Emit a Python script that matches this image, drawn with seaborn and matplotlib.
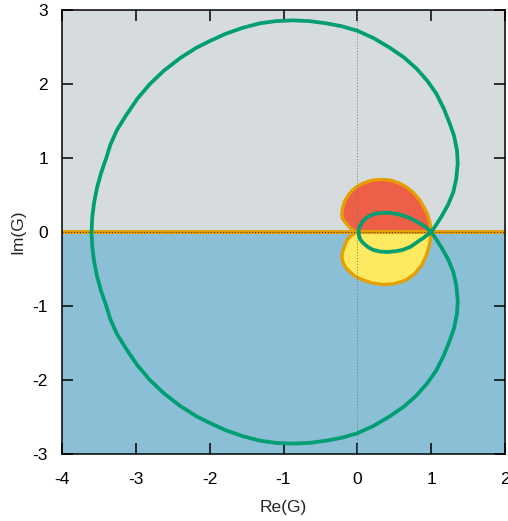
import numpy as np
import pandas as pd
import matplotlib
matplotlib.use("Agg")
import matplotlib.pyplot as plt
import seaborn as sns

# green Nyquist curve: outer loop (upper then lower half), then inner loop
re_curve = [1.00, 1.07, 1.14, 1.23, 1.30, 1.34, 1.36, 1.35, 1.31, 1.25, 1.17, 1.07, 0.95, 0.80, 0.63,
            0.44, 0.22, 0.00, -0.21, -0.42, -0.65, -0.87, -1.10, -1.32, -1.55, -1.78, -2.00, -2.18,
            -2.40, -2.62, -2.81, -2.98, -3.13, -3.255, -3.345, -3.40, -3.47, -3.525, -3.565, -3.59, -3.60,
            -3.59, -3.565, -3.525, -3.47, -3.40, -3.345, -3.255, -3.13, -2.98, -2.81, -2.62, -2.40, -2.18,
            -2.00, -1.78, -1.55, -1.32, -1.10, -0.87, -0.65, -0.42, -0.21, 0.00, 0.22, 0.44, 0.63, 0.80,
            0.95, 1.07, 1.17, 1.25, 1.31, 1.35, 1.36, 1.34, 1.30, 1.23, 1.14, 1.07, 1.00,
            0.92, 0.84, 0.75, 0.66, 0.55, 0.44, 0.35, 0.26, 0.18, 0.12, 0.07, 0.03, 0.015, 0.02, 0.04,
            0.08, 0.14, 0.21, 0.31, 0.41, 0.52, 0.62, 0.72, 0.82, 0.91, 1.00]
im_curve = [0.00, 0.10, 0.21, 0.37, 0.54, 0.72, 0.93, 1.10, 1.30, 1.47, 1.67, 1.87, 2.04, 2.21, 2.36,
            2.49, 2.62, 2.72, 2.78, 2.82, 2.85, 2.86, 2.85, 2.82, 2.76, 2.68, 2.58, 2.49,
            2.35, 2.18, 2.00, 1.80, 1.58, 1.38, 1.18, 1.00, 0.80, 0.60, 0.40, 0.20, 0.00,
            -0.20, -0.40, -0.60, -0.80, -1.00, -1.18, -1.38, -1.58, -1.80, -2.00, -2.18, -2.35, -2.49,
            -2.58, -2.68, -2.76, -2.82, -2.85, -2.86, -2.85, -2.82, -2.78, -2.72, -2.62, -2.49, -2.36, -2.21,
            -2.04, -1.87, -1.67, -1.47, -1.30, -1.10, -0.93, -0.72, -0.54, -0.37, -0.21, -0.10, 0.00,
            0.07, 0.12, 0.17, 0.21, 0.24, 0.26, 0.26, 0.25, 0.225, 0.19, 0.14, 0.07, 0.01, -0.04, -0.10,
            -0.15, -0.20, -0.24, -0.265, -0.27, -0.26, -0.24, -0.20, -0.13, -0.07, 0.00]

# upper (red) lobe
re_upper = [1.00, 0.98, 0.95, 0.91, 0.84, 0.75, 0.66, 0.57, 0.45, 0.33, 0.20, 0.08, -0.01, -0.06,
            -0.12, -0.17, -0.20, -0.21, -0.20, -0.17, -0.13, -0.08, -0.04, 0.00]
im_upper = [0.00, 0.14, 0.24, 0.32, 0.44, 0.54, 0.61, 0.66, 0.70, 0.71, 0.70, 0.66, 0.61, 0.57,
            0.50, 0.42, 0.32, 0.24, 0.18, 0.14, 0.09, 0.04, 0.01, 0.00]

# lower (yellow) lobe
re_lower = [0.00, -0.04, -0.10, -0.14, -0.17, -0.20, -0.21, -0.19, -0.15, -0.10, -0.03, 0.08, 0.20,
            0.35, 0.50, 0.66, 0.78, 0.87, 0.93, 0.97, 0.99, 1.00]
im_lower = [0.00, -0.02, -0.06, -0.11, -0.18, -0.27, -0.34, -0.42, -0.49, -0.54, -0.60, -0.65, -0.69,
            -0.71, -0.70, -0.65, -0.56, -0.45, -0.33, -0.20, -0.10, 0.00]

ticks = [-4, -3, -2, -1, 0, 1, 2]
yticks = [-3, -2, -1, 0, 1, 2, 3]

sns.set_style("ticks")
plt.rcParams['font.family'] = ['Liberation Sans', 'DejaVu Sans']
plt.rcParams['axes.unicode_minus'] = False

fig = plt.figure(figsize=(5.08, 5.21), dpi=100)
ax = fig.add_axes([62 / 508, 67 / 521, 443 / 508, 444 / 521])

# half-plane backgrounds
ax.axhspan(0, 3, color='#d6dbde', lw=0, zorder=0)
ax.axhspan(-3, 0, color='#8bbfd5', lw=0, zorder=0)

ax.fill(re_upper, im_upper, facecolor='#ee5f48', edgecolor='#e69f00', lw=2.4,
        joinstyle='round', zorder=2)
ax.fill(re_lower, im_lower, facecolor='#fdea60', edgecolor='#e69f00', lw=2.4,
        joinstyle='round', zorder=2)

ax.axhline(0, color='#e69f00', lw=2.8, zorder=2.5)
ax.axhline(0, color='#333333', lw=0.7, ls=(0, (1, 2)), zorder=2.6)
ax.axvline(0, color='#777777', lw=0.7, ls=(0, (1, 2)), zorder=2.6)

df = pd.DataFrame({'re': re_curve, 'im': im_curve})
sns.lineplot(data=df, x='re', y='im', sort=False, estimator=None, color='#009e73', lw=2.7,
             solid_joinstyle='round', solid_capstyle='round', ax=ax, zorder=3)

ax.set_xlim(-4, 2)
ax.set_ylim(-3, 3)
ax.set_xticks(ticks)
ax.set_yticks(yticks)
ax.tick_params(direction='in', length=8, width=1.1, top=True, right=True, labelsize=12.5, colors='black')
ax.tick_params(axis='x', pad=13)
ax.tick_params(axis='y', pad=10)
for s in ax.spines.values():
    s.set_linewidth(1.1)
    s.set_color('black')
    s.set_zorder(5)
ax.set_xlabel('Re(G)', fontsize=12.5, labelpad=9)
ax.set_ylabel('Im(G)', fontsize=12.5, labelpad=5)

fig.savefig('out.png', dpi=100)
